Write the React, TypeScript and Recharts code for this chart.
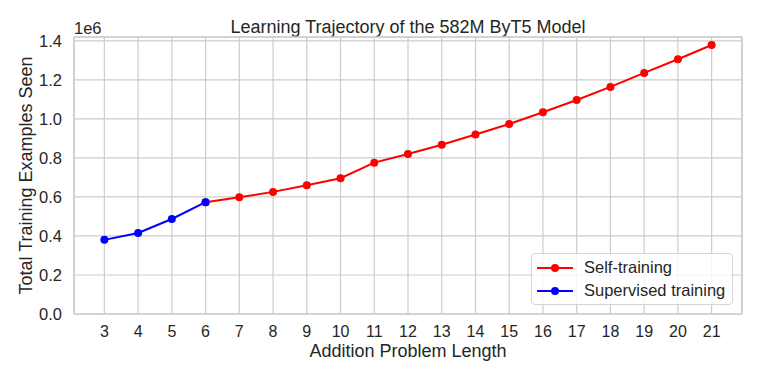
import { LineChart, Line, XAxis, YAxis, CartesianGrid, ReferenceLine, Label } from "recharts";

const lengths = [3, 4, 5, 6, 7, 8, 9, 10, 11, 12, 13, 14, 15, 16, 17, 18, 19, 20, 21];
const supervised = [380000, 415000, 487000, 573000];
const selfTraining = [
  573000, 598000, 626000, 660000, 696000, 776000, 820000, 868000, 920000, 974000, 1034000, 1097000, 1164000,
  1236000, 1306000, 1379000,
];
const yTicks = [0, 200000, 400000, 600000, 800000, 1000000, 1200000, 1400000];

const FONT = '"Liberation Sans", Arial, sans-serif';
const TEXT = "#262626";
const GRID = "#cccccc";

const data = lengths.map((len, i) => ({
  len,
  sup: i < supervised.length ? supervised[i] : null,
  self: len >= 6 ? selfTraining[len - 6] : null,
}));

const legendItems = [
  { name: "Self-training", color: "#ff0000" },
  { name: "Supervised training", color: "#0000ff" },
];

function LegendBox() {
  return (
    <div
      style={{
        position: "absolute",
        left: 531,
        top: 253,
        background: "rgba(255,255,255,0.8)",
        border: "1px solid #d6d6d6",
        borderRadius: 4,
        padding: "2px 0",
        fontFamily: FONT,
        fontSize: 16.5,
        color: TEXT,
        boxSizing: "border-box",
        width: 202,
        height: 52,
      }}
    >
      {legendItems.map((it) => (
        <div key={it.name} style={{ display: "flex", alignItems: "center", height: 23 }}>
          <svg width={52} height={14} style={{ flex: "none" }}>
            <line x1={5} x2={41} y1={7} y2={7} stroke={it.color} strokeWidth={2} />
            <circle cx={23} cy={7} r={4} fill={it.color} />
          </svg>
          <span>{it.name}</span>
        </div>
      ))}
    </div>
  );
}

export default function App() {
  return (
    <div style={{ position: "relative", width: 761, height: 381, background: "#fff" }}>
      <style>{"body{margin:0}"}</style>
      <LineChart width={761} height={381} data={data} margin={{ top: 37, right: 19, bottom: 17, left: 14 }}>
        <CartesianGrid stroke={GRID} strokeWidth={1.2} />
        <XAxis
          dataKey="len"
          type="number"
          domain={[2.1, 21.9]}
          ticks={lengths}
          interval={0}
          allowDataOverflow
          height={50}
          tickSize={0}
          tickMargin={12}
          axisLine={{ stroke: GRID, strokeWidth: 1.5 }}
          tick={{ fill: TEXT, fontSize: 16, fontFamily: FONT }}
        >
          <Label
            value="Addition Problem Length"
            position="insideBottom"
            offset={7}
            style={{ fill: TEXT, fontSize: 18, fontFamily: FONT }}
          />
        </XAxis>
        <YAxis
          type="number"
          domain={[0, 1420000]}
          ticks={yTicks}
          allowDataOverflow
          width={60}
          tickSize={0}
          tickMargin={12}
          axisLine={{ stroke: GRID, strokeWidth: 1.5 }}
          tickFormatter={(v: number) => (v / 1e6).toFixed(1)}
          tick={{ fill: TEXT, fontSize: 16.5, fontFamily: FONT }}
        />
        <ReferenceLine y={1420000} stroke={GRID} strokeWidth={1.5} ifOverflow="visible" />
        <ReferenceLine x={21.9} stroke={GRID} strokeWidth={1.5} ifOverflow="visible" />
        <Line
          dataKey="self"
          name="Self-training"
          stroke="#ff0000"
          strokeWidth={2}
          dot={{ r: 4, fill: "#ff0000", stroke: "none" }}
          activeDot={false}
          isAnimationActive={false}
        />
        <Line
          dataKey="sup"
          name="Supervised training"
          stroke="#0000ff"
          strokeWidth={2}
          dot={{ r: 4, fill: "#0000ff", stroke: "none" }}
          activeDot={false}
          isAnimationActive={false}
        />
        <text x={408} y={33} textAnchor="middle" fill={TEXT} fontSize={18} fontFamily={FONT}>
          Learning Trajectory of the 582M ByT5 Model
        </text>
        <text x={74} y={34} fill={TEXT} fontSize={16.5} fontFamily={FONT}>
          1e6
        </text>
        <text
          x={32}
          y={175.5}
          textAnchor="middle"
          transform="rotate(-90, 32, 175.5)"
          fill={TEXT}
          fontSize={18}
          fontFamily={FONT}
        >
          Total Training Examples Seen
        </text>
      </LineChart>
      <LegendBox />
    </div>
  );
}
